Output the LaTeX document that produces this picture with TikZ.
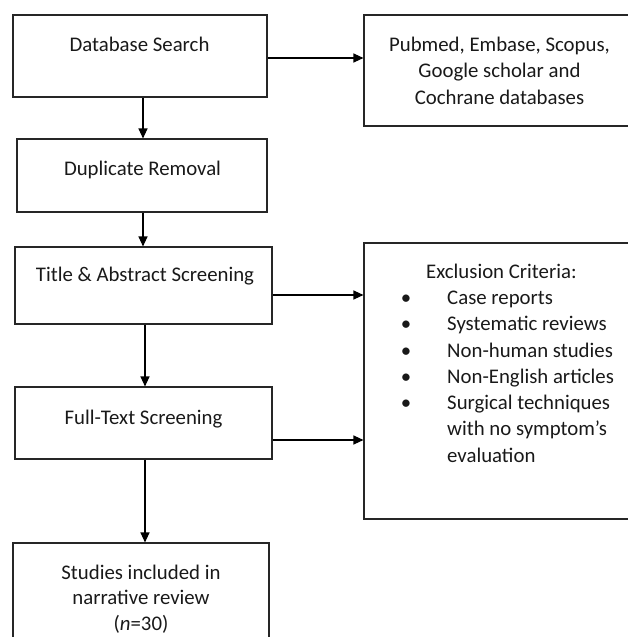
\documentclass[tikz,border=0pt]{standalone}
\usepackage{fontspec}
\setmainfont{Carlito}
\usetikzlibrary{arrows.meta}
\begin{document}
\begin{tikzpicture}[x=1pt,y=-1pt,
  box/.style={draw=black!85, line width=1.1pt, inner sep=0pt, rectangle},
  arr/.style={draw=black, line width=1.1pt, -{Triangle[length=10pt,width=9pt]}},
  txt/.style={inner sep=0pt, anchor=base, font=\fontsize{20.8}{26.5}\selectfont, text=black!90},
  ltxt/.style={txt, anchor=base west}]
\clip (0,0) rectangle (628,637);
% boxes
\node[box, minimum width=254pt, minimum height=82pt] (b1) at (140,56) {};
\node[box, minimum width=296pt, minimum height=111pt] (pub) at (512,70.5) {};
\node[box, minimum width=250pt, minimum height=73pt] (dup) at (142,175.5) {};
\node[box, minimum width=257pt, minimum height=77pt] (tas) at (143.5,285.5) {};
\node[box, minimum width=296pt, minimum height=276pt] (exc) at (512,381) {};
\node[box, minimum width=257pt, minimum height=72pt] (fts) at (143.5,423) {};
\node[box, minimum width=256pt, minimum height=137pt] (inc) at (141,611.5) {};
% texts
\node[txt] (t1) at (139.5,51) {Database Search};
\node[txt] (p1) at (499.5,51) {Pubmed, Embase, Scopus,};
\node[txt] (p2) at (499.5,77.5) {Google scholar and};
\node[txt] (p3) at (499.5,104) {Cochrane databases};
\node[txt] (t2) at (142.5,175) {Duplicate Removal};
\node[txt] (t3) at (145,281) {Title \& Abstract Screening};
\node[txt] (t4) at (143.5,424) {Full-Text Screening};
\node[ltxt] (e0) at (426,278) {Exclusion Criteria:};
\foreach \yy/\tt [count=\i] in {304/Case reports, 330.5/Systematic reviews, 357/Non-human studies, 383/Non-English articles, 409.5/Surgical techniques}{
  \node[txt] (bu\i) at (406,\yy) {•};
  \node[ltxt] (e\i) at (447,\yy) {\tt};
}
\node[ltxt] (e6) at (447,435.5) {with no symptom’s};
\node[ltxt] (e7) at (447,462) {evaluation};
\node[txt] (s1) at (141,579) {Studies included in};
\node[txt] (s2) at (141,604) {narrative review};
\node[txt] (s3) at (141,630) {(\textit{n}=30)};
% connector guides
\coordinate (y1) at (0,58);
\coordinate (y2) at (0,295);
\coordinate (y3) at (0,440);
\coordinate (x1) at (143,0);
\coordinate (x2) at (145,0);
% connectors
\draw[arr] (b1.east |- y1) -- (pub.west |- y1);
\draw[arr] (b1.south -| x1) -- (dup.north -| x1);
\draw[arr] (dup.south -| x1) -- (tas.north -| x1);
\draw[arr] (tas.east |- y2) -- (exc.west |- y2);
\draw[arr] (tas.south -| x2) -- (fts.north -| x2);
\draw[arr] (fts.east |- y3) -- (exc.west |- y3);
\draw[arr] (fts.south -| x2) -- (inc.north -| x2);
\end{tikzpicture}
\end{document}
